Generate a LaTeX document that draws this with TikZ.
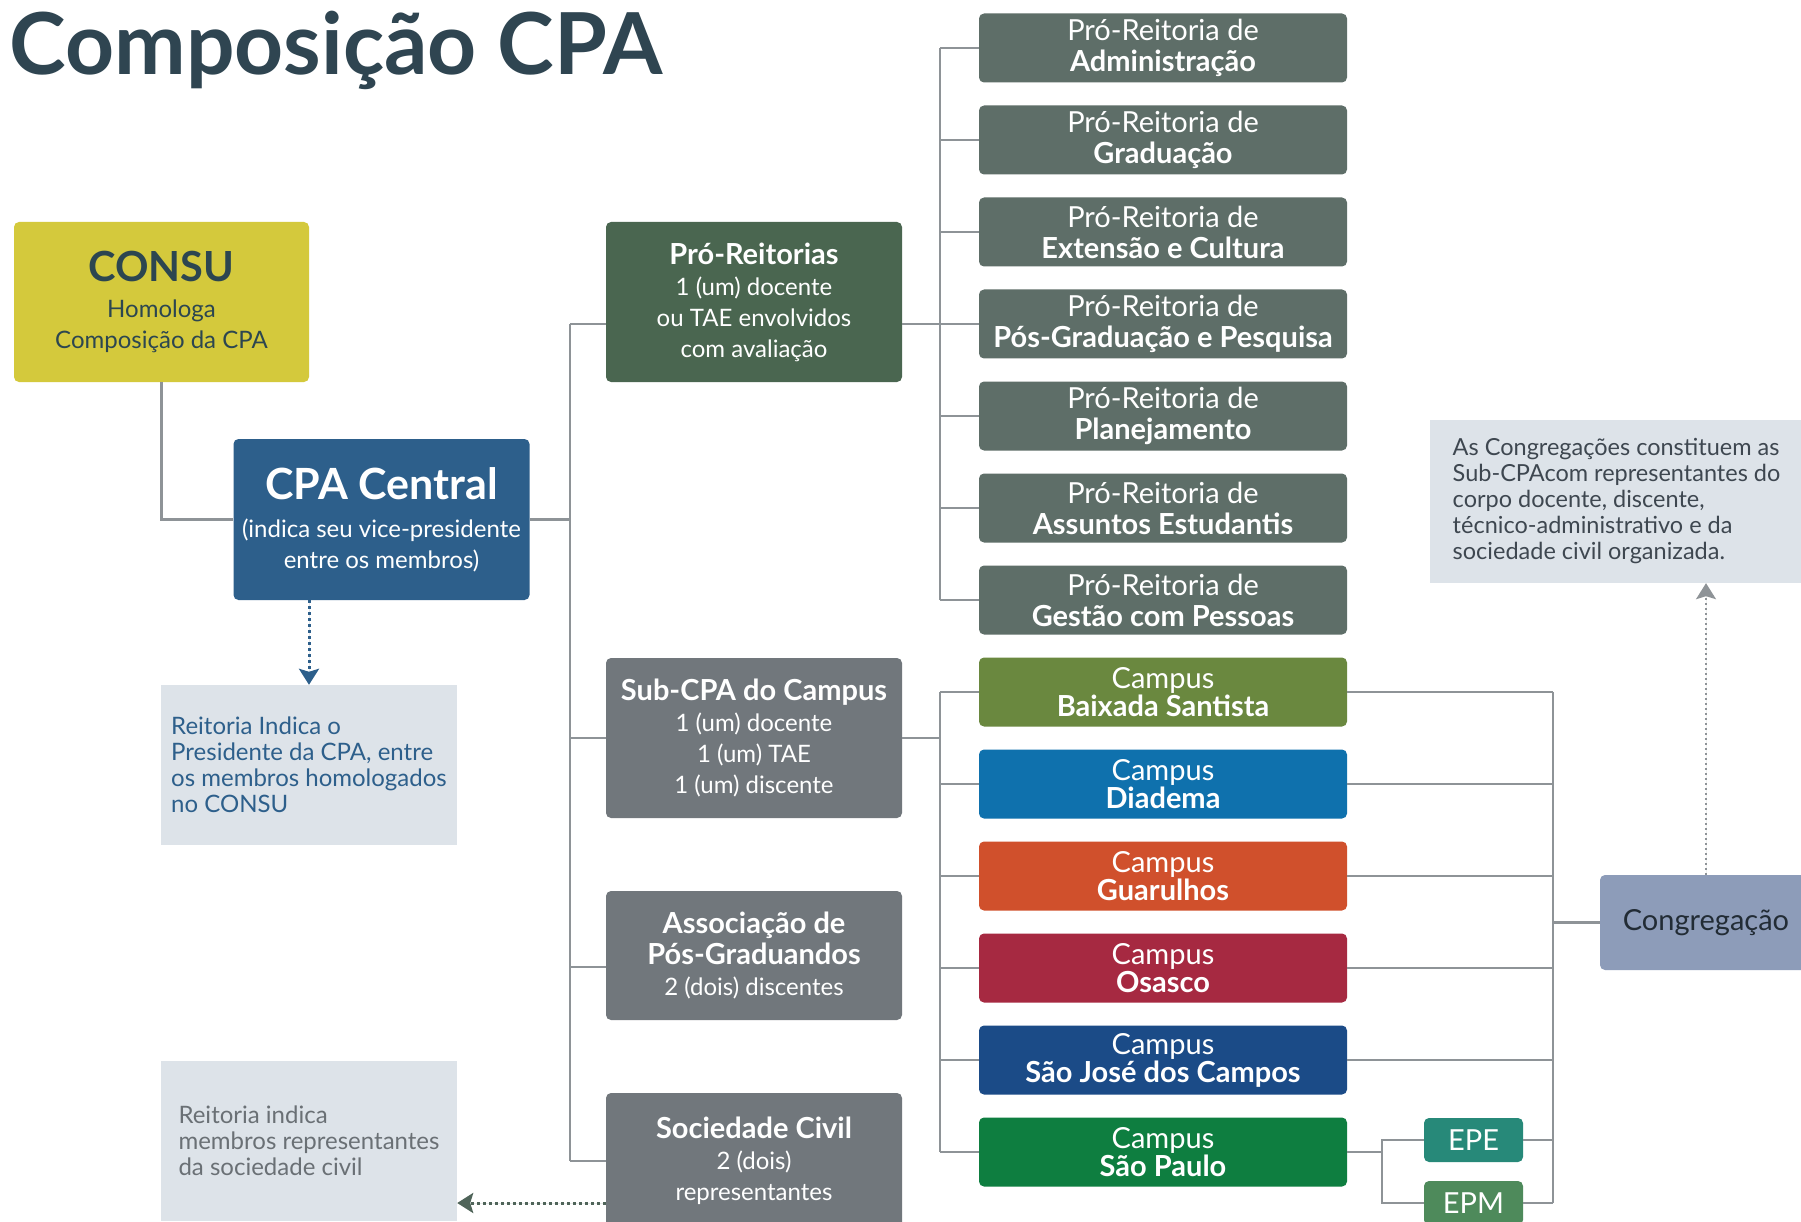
\documentclass[tikz,border=0pt]{standalone}
\usepackage{fontspec}
\setmainfont{Lato}
\usetikzlibrary{arrows.meta}

\definecolor{titleslate}{HTML}{2F4551}
\definecolor{consuyellow}{HTML}{D4C93C}
\definecolor{consutext}{HTML}{2C4650}
\definecolor{cpablue}{HTML}{2D5F8B}
\definecolor{prosgreen}{HTML}{4A6650}
\definecolor{prgray}{HTML}{5E6E68}
\definecolor{subgray}{HTML}{71777C}
\definecolor{notefill}{HTML}{DDE3E9}
\definecolor{notegray}{HTML}{6A7075}
\definecolor{linegray}{HTML}{8E9397}
\definecolor{congblue}{HTML}{8D9CB9}
\definecolor{congtext}{HTML}{222C35}
\definecolor{arrowgreen}{HTML}{4F6459}
\definecolor{baixada}{HTML}{6A883F}
\definecolor{diadema}{HTML}{0F71AD}
\definecolor{guarulhos}{HTML}{D0502C}
\definecolor{osasco}{HTML}{A62941}
\definecolor{sjcampos}{HTML}{1B4B87}
\definecolor{saopaulo}{HTML}{0E7E40}
\definecolor{epeteal}{HTML}{278979}
\definecolor{epmgreen}{HTML}{4E8A5B}

\newcommand{\boxhead}[1]{{\fontsize{29}{31}\selectfont\bfseries #1}}

\begin{document}
\begin{tikzpicture}[
        x = 1pt, y = -1pt,
        link/.style = {draw = linegray, line width = 2.5pt},
        box/.style = {
                rounded corners = 5pt, inner sep = 0pt, align = center, text = white,
                font = \fontsize{24}{31}\selectfont
            },
        bigbox/.style = {box, minimum width = 296pt, minimum height = 160pt},
        prbox/.style = {
                box, fill = prgray, minimum width = 368pt, minimum height = 69pt,
                font = \fontsize{29}{31}\selectfont
            },
        campusbox/.style = {prbox, fill = #1, font = \fontsize{29}{28}\selectfont},
        schoolbox/.style = {
                box, fill = #1, minimum width = 99pt, minimum height = 44pt,
                font = \fontsize{29}{30}\selectfont
            },
        notebox/.style = {
                fill = notefill, inner sep = 0pt, align = left,
                minimum width = 296pt, minimum height = 160pt,
                font = \fontsize{24}{26}\selectfont
            },
        dotlink/.style = {
                line width = 3pt, dash pattern = on 3pt off 3pt,
                -{Stealth[width = 20pt, length = 16pt, inset = 3pt]}
            }
    ]

    \useasboundingbox (0,0) rectangle (1801,1222);
    \fill[white] (0,0) rectangle (1801,1222);
    \clip (0,0) rectangle (1801,1222);

    \node[anchor = base west, text = titleslate, font = \fontsize{85.5}{100}\selectfont\bfseries]
        (title) at (6,75) {Composição CPA};

    \node[bigbox, fill = consuyellow, text = consutext, minimum width = 295pt] (consu) at (161.5,302)
        {{\fontsize{41.5}{40}\selectfont\bfseries CONSU}\\[5pt]Homologa\\Composição da CPA};
    \node[bigbox, fill = cpablue, minimum height = 161pt] (cpa) at (381.5,519.5)
        {{\fontsize{43}{40}\selectfont\bfseries CPA Central}\\[7pt](indica seu vice-presidente\\entre os membros)};
    \node[notebox, text = cpablue] (reit) at (309,765)
        {Reitoria Indica o\\Presidente da CPA, entre\\os membros homologados\\no CONSU};
    \node[notebox, text = notegray] (reitsoc) at (309,1141)
        {Reitoria indica\\membros representantes\\da sociedade civil};

    \node[bigbox, fill = prosgreen] (pros) at (754,302)
        {\boxhead{Pró-Reitorias}\\1 (um) docente\\ou TAE envolvidos\\com avaliação};
    \node[bigbox, fill = subgray] (sub) at (754,738)
        {\boxhead{Sub-CPA do Campus}\\1 (um) docente\\1 (um) TAE\\1 (um) discente};
    \node[bigbox, fill = subgray, minimum height = 129pt] (assoc) at (754,955.5)
        {\boxhead{Associação de}\\\boxhead{Pós-Graduandos}\\2 (dois) discentes};
    \node[bigbox, fill = subgray, minimum height = 136pt] (soc) at (754,1161)
        {\boxhead{Sociedade Civil}\\2 (dois)\\representantes};

    \foreach \pname [count = \i] in {Administração, Graduação, Extensão e Cultura,
            Pós-Graduação e Pesquisa, Planejamento, Assuntos Estudantis, Gestão com Pessoas}
        \node[prbox] (pr\i) at (1163,{48+92*(\i-1)}) {Pró-Reitoria de\\\textbf{\pname}};

    \foreach \cname/\ccolor [count = \i] in {Baixada Santista/baixada, Diadema/diadema,
            Guarulhos/guarulhos, Osasco/osasco, São José dos Campos/sjcampos, São Paulo/saopaulo}
        \node[campusbox = \ccolor] (c\i) at (1163,{692+92*(\i-1)}) {Campus\\\textbf{\cname}};

    \node[schoolbox = epeteal] (epe) at (1473.5,1140) {EPE};
    \node[schoolbox = epmgreen] (epm) at (1473.5,1203) {EPM};

    \node[box, fill = congblue, text = congtext, minimum width = 212pt, minimum height = 95pt,
        font = \fontsize{29}{30}\selectfont] (cong) at (1706,922.5) {Congregação};
    \node[notebox, text = congtext!85!notefill, minimum width = 373pt, minimum height = 163pt,
        font = \fontsize{23.5}{26}\selectfont] (congnote) at (1616.5,501.5)
        {As Congregações constituem as\\Sub-CPAcom representantes do\\corpo docente, discente,\\técnico-administrativo e da\\sociedade civil organizada.};

    \coordinate (trunk) at (570,0);
    \coordinate (prbus) at (940,0);
    \coordinate (rbus) at (1553,0);
    \coordinate (assocjoin) at (570,967);
    \coordinate (spfork) at (1382,1152);

    \draw[link] (consu.south) |- (cpa.west);
    \draw[link] (cpa.east) -- (cpa.east -| trunk);
    \draw[link] (trunk |- pr4.west) -- (trunk |- soc.west);
    \draw[link] (trunk |- pr4.west) -- (pros.west |- pr4.west);
    \draw[link] (trunk |- sub.west) -- (sub.west);
    \draw[link] (assocjoin) -- (assocjoin -| assoc.west);
    \draw[link] (trunk |- soc.west) -- (soc.west);

    \draw[link] (pros.east |- pr4.west) -- (pr4.west);
    \draw[link] (pr1.west -| prbus) -- (pr7.west -| prbus);
    \foreach \i in {1,...,7}
        \draw[link] (pr\i.west) -- (pr\i.west -| prbus);

    \draw[link] (sub.east) -- (sub.east -| prbus);
    \draw[link] (c1.west -| prbus) -- (c6.west -| prbus);
    \draw[link] (rbus |- c1.east) -- (rbus |- epm.east);
    \foreach \i in {1,...,6}
        \draw[link] (c\i.west) -- (c\i.west -| prbus);
    \foreach \i in {1,...,5}
        \draw[link] (c\i.east) -- (c\i.east -| rbus);

    \draw[link] (c6.east) -- (spfork);
    \draw[link] (epe.west) -| (spfork) |- (epm.west);
    \draw[link] (epe.east) -- (epe.east -| rbus);
    \draw[link] (epm.east) -- (epm.east -| rbus);
    \draw[link] (cong.west) -- (cong.west -| rbus);

    \coordinate (socout) at ([yshift = -42pt]soc.west);
    \draw[dotlink, draw = cpablue, fill = cpablue] (reit.north |- cpa.south) -- (reit.north);
    \draw[dotlink, draw = arrowgreen, fill = arrowgreen] (socout) -- (socout -| reitsoc.east);
    \draw[dotlink, draw = linegray, fill = linegray, line width = 1.5pt,
        dash pattern = on 2pt off 3pt] (cong.north) -- (cong.north |- congnote.south);

\end{tikzpicture}
\end{document}
